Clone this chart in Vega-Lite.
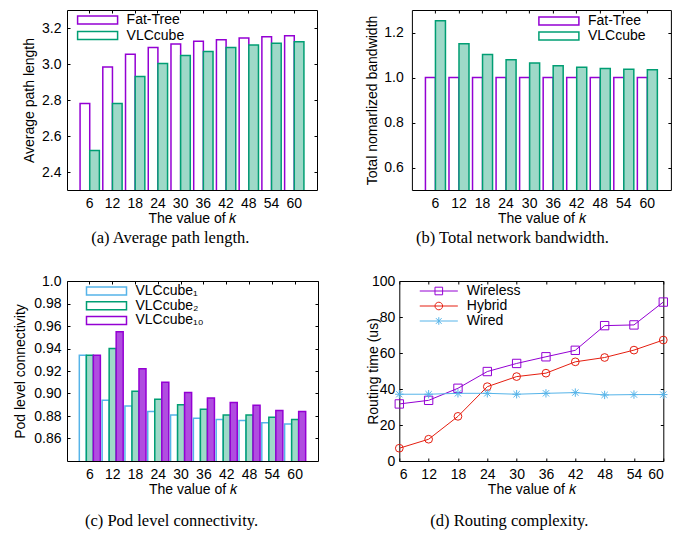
{
  "$schema": "https://vega.github.io/schema/vega-lite/v6.json",
  "background": "white",
  "padding": {"left": 12, "top": 9, "right": 0, "bottom": 0},
  "datasets": {
    "pathlen": [
      {"k": 6, "s": "Fat-Tree", "v": 2.781}, {"k": 6, "s": "VLCcube", "v": 2.52},
      {"k": 12, "s": "Fat-Tree", "v": 2.984}, {"k": 12, "s": "VLCcube", "v": 2.78},
      {"k": 18, "s": "Fat-Tree", "v": 3.054}, {"k": 18, "s": "VLCcube", "v": 2.931},
      {"k": 24, "s": "Fat-Tree", "v": 3.091}, {"k": 24, "s": "VLCcube", "v": 3.003},
      {"k": 30, "s": "Fat-Tree", "v": 3.111}, {"k": 30, "s": "VLCcube", "v": 3.047},
      {"k": 36, "s": "Fat-Tree", "v": 3.126}, {"k": 36, "s": "VLCcube", "v": 3.07},
      {"k": 42, "s": "Fat-Tree", "v": 3.135}, {"k": 42, "s": "VLCcube", "v": 3.091},
      {"k": 48, "s": "Fat-Tree", "v": 3.144}, {"k": 48, "s": "VLCcube", "v": 3.105},
      {"k": 54, "s": "Fat-Tree", "v": 3.152}, {"k": 54, "s": "VLCcube", "v": 3.115},
      {"k": 60, "s": "Fat-Tree", "v": 3.157}, {"k": 60, "s": "VLCcube", "v": 3.124}
    ],
    "bandwidth": [
      {"k": 6, "s": "Fat-Tree", "v": 1.0}, {"k": 6, "s": "VLCcube", "v": 1.252},
      {"k": 12, "s": "Fat-Tree", "v": 1.0}, {"k": 12, "s": "VLCcube", "v": 1.15},
      {"k": 18, "s": "Fat-Tree", "v": 1.0}, {"k": 18, "s": "VLCcube", "v": 1.102},
      {"k": 24, "s": "Fat-Tree", "v": 1.0}, {"k": 24, "s": "VLCcube", "v": 1.079},
      {"k": 30, "s": "Fat-Tree", "v": 1.0}, {"k": 30, "s": "VLCcube", "v": 1.065},
      {"k": 36, "s": "Fat-Tree", "v": 1.0}, {"k": 36, "s": "VLCcube", "v": 1.052},
      {"k": 42, "s": "Fat-Tree", "v": 1.0}, {"k": 42, "s": "VLCcube", "v": 1.046},
      {"k": 48, "s": "Fat-Tree", "v": 1.0}, {"k": 48, "s": "VLCcube", "v": 1.04},
      {"k": 54, "s": "Fat-Tree", "v": 1.0}, {"k": 54, "s": "VLCcube", "v": 1.037},
      {"k": 60, "s": "Fat-Tree", "v": 1.0}, {"k": 60, "s": "VLCcube", "v": 1.034}
    ],
    "conn": [
      {"k": 6, "s": "VLCcube₁", "v": 0.934}, {"k": 6, "s": "VLCcube₂", "v": 0.934}, {"k": 6, "s": "VLCcube₁₀", "v": 0.934},
      {"k": 12, "s": "VLCcube₁", "v": 0.894}, {"k": 12, "s": "VLCcube₂", "v": 0.94}, {"k": 12, "s": "VLCcube₁₀", "v": 0.955},
      {"k": 18, "s": "VLCcube₁", "v": 0.889}, {"k": 18, "s": "VLCcube₂", "v": 0.902}, {"k": 18, "s": "VLCcube₁₀", "v": 0.922},
      {"k": 24, "s": "VLCcube₁", "v": 0.884}, {"k": 24, "s": "VLCcube₂", "v": 0.895}, {"k": 24, "s": "VLCcube₁₀", "v": 0.91},
      {"k": 30, "s": "VLCcube₁", "v": 0.881}, {"k": 30, "s": "VLCcube₂", "v": 0.89}, {"k": 30, "s": "VLCcube₁₀", "v": 0.901},
      {"k": 36, "s": "VLCcube₁", "v": 0.878}, {"k": 36, "s": "VLCcube₂", "v": 0.886}, {"k": 36, "s": "VLCcube₁₀", "v": 0.896},
      {"k": 42, "s": "VLCcube₁", "v": 0.877}, {"k": 42, "s": "VLCcube₂", "v": 0.881}, {"k": 42, "s": "VLCcube₁₀", "v": 0.892},
      {"k": 48, "s": "VLCcube₁", "v": 0.876}, {"k": 48, "s": "VLCcube₂", "v": 0.881}, {"k": 48, "s": "VLCcube₁₀", "v": 0.8895},
      {"k": 54, "s": "VLCcube₁", "v": 0.874}, {"k": 54, "s": "VLCcube₂", "v": 0.879}, {"k": 54, "s": "VLCcube₁₀", "v": 0.885},
      {"k": 60, "s": "VLCcube₁", "v": 0.873}, {"k": 60, "s": "VLCcube₂", "v": 0.877}, {"k": 60, "s": "VLCcube₁₀", "v": 0.884}
    ],
    "routing": [
      {"k": 6, "s": "Wireless", "v": 31.7}, {"k": 12, "s": "Wireless", "v": 33.7}, {"k": 18, "s": "Wireless", "v": 40.4}, {"k": 24, "s": "Wireless", "v": 49.7}, {"k": 30, "s": "Wireless", "v": 54.2}, {"k": 36, "s": "Wireless", "v": 57.9}, {"k": 42, "s": "Wireless", "v": 61.5}, {"k": 48, "s": "Wireless", "v": 75.2}, {"k": 54, "s": "Wireless", "v": 75.6}, {"k": 60, "s": "Wireless", "v": 88.3},
      {"k": 6, "s": "Hybrid", "v": 7.1}, {"k": 12, "s": "Hybrid", "v": 12.1}, {"k": 18, "s": "Hybrid", "v": 24.8}, {"k": 24, "s": "Hybrid", "v": 41.3}, {"k": 30, "s": "Hybrid", "v": 46.9}, {"k": 36, "s": "Hybrid", "v": 48.8}, {"k": 42, "s": "Hybrid", "v": 55.1}, {"k": 48, "s": "Hybrid", "v": 57.5}, {"k": 54, "s": "Hybrid", "v": 61.6}, {"k": 60, "s": "Hybrid", "v": 67.2},
      {"k": 6, "s": "Wired", "v": 37.1}, {"k": 12, "s": "Wired", "v": 37.1}, {"k": 18, "s": "Wired", "v": 37.6}, {"k": 24, "s": "Wired", "v": 37.6}, {"k": 30, "s": "Wired", "v": 37.1}, {"k": 36, "s": "Wired", "v": 37.6}, {"k": 42, "s": "Wired", "v": 38.0}, {"k": 48, "s": "Wired", "v": 36.7}, {"k": 54, "s": "Wired", "v": 36.9}, {"k": 60, "s": "Wired", "v": 36.9}
    ]
  },
  "spacing": 26,
  "resolve": {"scale": {"x": "independent", "y": "independent", "xOffset": "independent", "stroke": "independent", "shape": "independent"}, "legend": {"stroke": "independent", "shape": "independent"}},
  "vconcat": [
    {
      "spacing": 45.9,
      "resolve": {"scale": {"x": "independent", "y": "independent", "xOffset": "independent", "stroke": "independent", "shape": "independent"}, "legend": {"stroke": "independent", "shape": "independent"}},
      "hconcat": [
        {
          "width": 250, "height": 180,
          "data": {"name": "pathlen"},
          "title": {"text": "(a) Average path length.", "orient": "bottom", "anchor": "middle", "frame": "group", "offset": 5, "dx": -21.7},
          "resolve": {"axis": {"x": "independent", "y": "independent"}},
          "layer": [
            {
              "mark": {"type": "bar", "clip": true, "strokeWidth": 1.5},
              "encoding": {
                "x": {"field": "k", "type": "ordinal", "scale": {"paddingInner": 0.15, "paddingOuter": 0.575}, "axis": {"title": "The value of 𝑘", "labelAngle": 0, "labelPadding": 9, "titlePadding": 1}},
                "xOffset": {"field": "s", "type": "nominal", "scale": {"domain": ["Fat-Tree", "VLCcube"], "paddingInner": 0, "paddingOuter": 0}},
                "y": {"field": "v", "type": "quantitative", "scale": {"domain": [2.3, 3.3], "zero": false, "nice": false}, "axis": {"title": "Average path length", "values": [2.4, 2.6, 2.8, 3.0, 3.2], "format": ".1f", "labelPadding": 9, "titlePadding": 4.6}},
                "stroke": {"field": "s", "type": "nominal", "scale": {"domain": ["Fat-Tree", "VLCcube"], "range": ["#9400D3", "#009E73"]},
                  "legend": {"title": null, "orient": "none", "legendX": 23.6, "legendY": 3, "symbolType": "M-5,-1H5V1H-5Z", "symbolSize": 64, "symbolStrokeWidth": 1.5, "labelOffset": 22, "rowPadding": 1.6,
                    "encode": {"symbols": {"update": {"fill": {"signal": "datum.value === 'VLCcube' ? '#9ed9c8' : 'white'"}}}}}},
                "fill": {"condition": {"test": "datum.s === 'VLCcube'", "value": "#9ed9c8"}, "value": "white"}
              }
            },
            {
              "mark": {"type": "bar", "opacity": 0, "clip": true},
              "encoding": {
                "x": {"field": "k", "type": "ordinal", "axis": {"orient": "top", "labels": false, "title": null}},
                "y": {"field": "v", "type": "quantitative", "axis": {"orient": "right", "labels": false, "title": null, "values": [2.4, 2.6, 2.8, 3.0, 3.2]}}
              }
            }
          ]
        },
        {
          "width": 259, "height": 180,
          "data": {"name": "bandwidth"},
          "title": {"text": "(b) Total network bandwidth.", "orient": "bottom", "anchor": "middle", "frame": "group", "offset": 5, "dx": -29},
          "resolve": {"axis": {"x": "independent", "y": "independent"}},
          "layer": [
            {
              "mark": {"type": "bar", "clip": true, "strokeWidth": 1.5},
              "encoding": {
                "x": {"field": "k", "type": "ordinal", "scale": {"paddingInner": 0.15, "paddingOuter": 0.575}, "axis": {"title": "The value of 𝑘", "labelAngle": 0, "labelPadding": 9, "titlePadding": 1}},
                "xOffset": {"field": "s", "type": "nominal", "scale": {"domain": ["Fat-Tree", "VLCcube"], "paddingInner": 0, "paddingOuter": 0}},
                "y": {"field": "v", "type": "quantitative", "scale": {"domain": [0.5, 1.3], "zero": false, "nice": false}, "axis": {"title": "Total nomarlized bandwidth", "values": [0.6, 0.8, 1.0, 1.2], "format": ".1f", "labelPadding": 11.7, "titlePadding": 4.6}},
                "stroke": {"field": "s", "type": "nominal", "scale": {"domain": ["Fat-Tree", "VLCcube"], "range": ["#9400D3", "#009E73"]},
                  "legend": {"title": null, "orient": "none", "legendX": 140, "legendY": 4, "symbolType": "M-5,-1H5V1H-5Z", "symbolSize": 64, "symbolStrokeWidth": 1.5, "labelOffset": 22, "rowPadding": 1,
                    "encode": {"symbols": {"update": {"fill": {"signal": "datum.value === 'VLCcube' ? '#9ed9c8' : 'white'"}}}}}},
                "fill": {"condition": {"test": "datum.s === 'VLCcube'", "value": "#9ed9c8"}, "value": "white"}
              }
            },
            {
              "mark": {"type": "bar", "opacity": 0, "clip": true},
              "encoding": {
                "x": {"field": "k", "type": "ordinal", "axis": {"orient": "top", "labels": false, "title": null}},
                "y": {"field": "v", "type": "quantitative", "axis": {"orient": "right", "labels": false, "title": null, "values": [0.6, 0.8, 1.0, 1.2]}}
              }
            }
          ]
        }
      ]
    },
    {
      "spacing": 46.3,
      "resolve": {"scale": {"x": "independent", "y": "independent", "xOffset": "independent", "stroke": "independent", "shape": "independent"}, "legend": {"stroke": "independent", "shape": "independent"}},
      "hconcat": [
        {
          "width": 251, "height": 180,
          "data": {"name": "conn"},
          "title": {"text": "(c) Pod level connectivity.", "orient": "bottom", "anchor": "middle", "frame": "group", "offset": 17, "dx": -21},
          "resolve": {"axis": {"x": "independent", "y": "independent"}},
          "layer": [
            {
              "mark": {"type": "bar", "clip": true, "strokeWidth": 1.5},
              "encoding": {
                "x": {"field": "k", "type": "ordinal", "scale": {"paddingInner": 0.077, "paddingOuter": 0.54}, "axis": {"title": "The value of 𝑘", "labelAngle": 0, "labelPadding": 9, "titlePadding": 1}},
                "xOffset": {"field": "s", "type": "nominal", "scale": {"domain": ["VLCcube₁", "VLCcube₂", "VLCcube₁₀"], "paddingInner": 0, "paddingOuter": 0}},
                "y": {"field": "v", "type": "quantitative", "scale": {"domain": [0.84, 1.0], "zero": false, "nice": false}, "axis": {"title": "Pod level connectivity", "values": [0.86, 0.88, 0.9, 0.92, 0.94, 0.96, 0.98, 1.0], "labelExpr": "datum.value >= 0.999 ? '1.0' : format(datum.value, '.2f')", "labelPadding": 9, "titlePadding": 6.3}},
                "stroke": {"field": "s", "type": "nominal", "scale": {"domain": ["VLCcube₁", "VLCcube₂", "VLCcube₁₀"], "range": ["#56B4E9", "#009E73", "#9400D3"]},
                  "legend": {"title": null, "orient": "none", "legendX": 32.5, "legendY": 3, "symbolType": "M-5,-1H5V1H-5Z", "symbolSize": 64, "symbolStrokeWidth": 1.5, "labelOffset": 22, "rowPadding": 0.7,
                    "encode": {"symbols": {"update": {"fill": {"signal": "datum.value === 'VLCcube₂' ? '#9ed9c8' : datum.value === 'VLCcube₁₀' ? '#b04de0' : 'white'"}}}}}},
                "fill": {"condition": [
                  {"test": "datum.s === 'VLCcube₂'", "value": "#9ed9c8"},
                  {"test": "datum.s === 'VLCcube₁₀'", "value": "#b04de0"}
                ], "value": "white"}
              }
            },
            {
              "mark": {"type": "bar", "opacity": 0, "clip": true},
              "encoding": {
                "x": {"field": "k", "type": "ordinal", "axis": {"orient": "top", "labels": false, "title": null}},
                "y": {"field": "v", "type": "quantitative", "axis": {"orient": "right", "labels": false, "title": null, "values": [0.86, 0.88, 0.9, 0.92, 0.94, 0.96, 0.98, 1.0]}}
              }
            }
          ]
        },
        {
          "width": 264, "height": 180,
          "data": {"name": "routing"},
          "title": {"text": "(d) Routing complexity.", "orient": "bottom", "anchor": "middle", "frame": "group", "offset": 17, "dx": -22},
          "resolve": {"axis": {"x": "independent", "y": "independent"}},
          "layer": [
            {
              "mark": {"type": "line", "strokeWidth": 1},
              "encoding": {
                "x": {"field": "k", "type": "quantitative", "scale": {"domain": [6, 60], "nice": false, "zero": false}, "axis": {"title": "The value of 𝑘", "values": [6, 12, 18, 24, 30, 36, 42, 48, 54, 60], "labelPadding": 9, "titlePadding": 1}},
                "y": {"field": "v", "type": "quantitative", "scale": {"domain": [0, 100], "nice": false}, "axis": {"title": "Routing time (us)", "values": [0, 20, 40, 60, 80, 100], "labelPadding": 7.5, "titlePadding": -9.3}},
                "stroke": {"field": "s", "type": "nominal", "scale": {"domain": ["Wireless", "Hybrid", "Wired"], "range": ["#9400D3", "#E51E10", "#56B4E9"]},
                  "legend": {"title": null, "orient": "none", "legendX": 32.5, "legendY": 3, "symbolSize": 58, "symbolStrokeWidth": 1, "labelOffset": 21, "rowPadding": 1,
                    "encode": {"symbols": {"update": {"fill": {"value": "transparent"}, "shape": {"signal": "datum.value === 'Wireless' ? 'M-5,0H5M-1,-1H1V1H-1Z' : datum.value === 'Hybrid' ? 'M-5,0H5M1,0A1,1 0 1,1 -1,0A1,1 0 1,1 1,0Z' : 'M-5,0H5M0,-1V1M-0.75,-0.75L0.75,0.75M-0.75,0.75L0.75,-0.75'"}}}}}}
              }
            },
            {
              "transform": [{"filter": "datum.s === 'Wireless'"}],
              "mark": {"type": "point", "shape": "square", "filled": false, "strokeWidth": 1, "size": 70, "opacity": 1},
              "encoding": {
                "x": {"field": "k", "type": "quantitative", "axis": null},
                "y": {"field": "v", "type": "quantitative", "axis": null},
                "stroke": {"field": "s", "type": "nominal", "legend": null}
              }
            },
            {
              "transform": [{"filter": "datum.s === 'Hybrid'"}],
              "mark": {"type": "point", "shape": "circle", "filled": false, "strokeWidth": 1, "size": 60, "opacity": 1},
              "encoding": {
                "x": {"field": "k", "type": "quantitative", "axis": null},
                "y": {"field": "v", "type": "quantitative", "axis": null},
                "stroke": {"field": "s", "type": "nominal", "legend": null}
              }
            },
            {
              "transform": [{"filter": "datum.s === 'Wired'"}],
              "mark": {"type": "point", "shape": "M-1,0H1M0,-1V1M-0.75,-0.75L0.75,0.75M-0.75,0.75L0.75,-0.75", "filled": false, "strokeWidth": 1, "size": 70, "opacity": 1},
              "encoding": {
                "x": {"field": "k", "type": "quantitative", "axis": null},
                "y": {"field": "v", "type": "quantitative", "axis": null},
                "stroke": {"field": "s", "type": "nominal", "legend": null}
              }
            },
            {
              "mark": {"type": "point", "opacity": 0},
              "encoding": {
                "x": {"field": "k", "type": "quantitative", "axis": {"orient": "top", "labels": false, "title": null, "values": [6, 12, 18, 24, 30, 36, 42, 48, 54, 60]}},
                "y": {"field": "v", "type": "quantitative", "axis": {"orient": "right", "labels": false, "title": null, "values": [0, 20, 40, 60, 80, 100]}}
              }
            }
          ]
        }
      ]
    }
  ],
  "config": {
    "view": {"stroke": "black", "strokeWidth": 1},
    "font": "Liberation Sans",
    "axis": {"labelFont": "Liberation Sans", "labelFontSize": 14, "labelColor": "#000", "titleFont": "Liberation Sans", "titleFontSize": 14, "titleFontWeight": "normal", "titleColor": "#000", "tickColor": "#000", "tickSize": -3, "tickWidth": 1, "domain": false, "grid": false, "labelOverlap": false},
    "legend": {"labelFont": "Liberation Sans", "labelFontSize": 14, "labelColor": "#000", "padding": 0, "labelLimit": 200},
    "title": {"font": "Liberation Serif", "fontSize": 16.5, "fontWeight": "normal", "color": "#000"}
  }
}
